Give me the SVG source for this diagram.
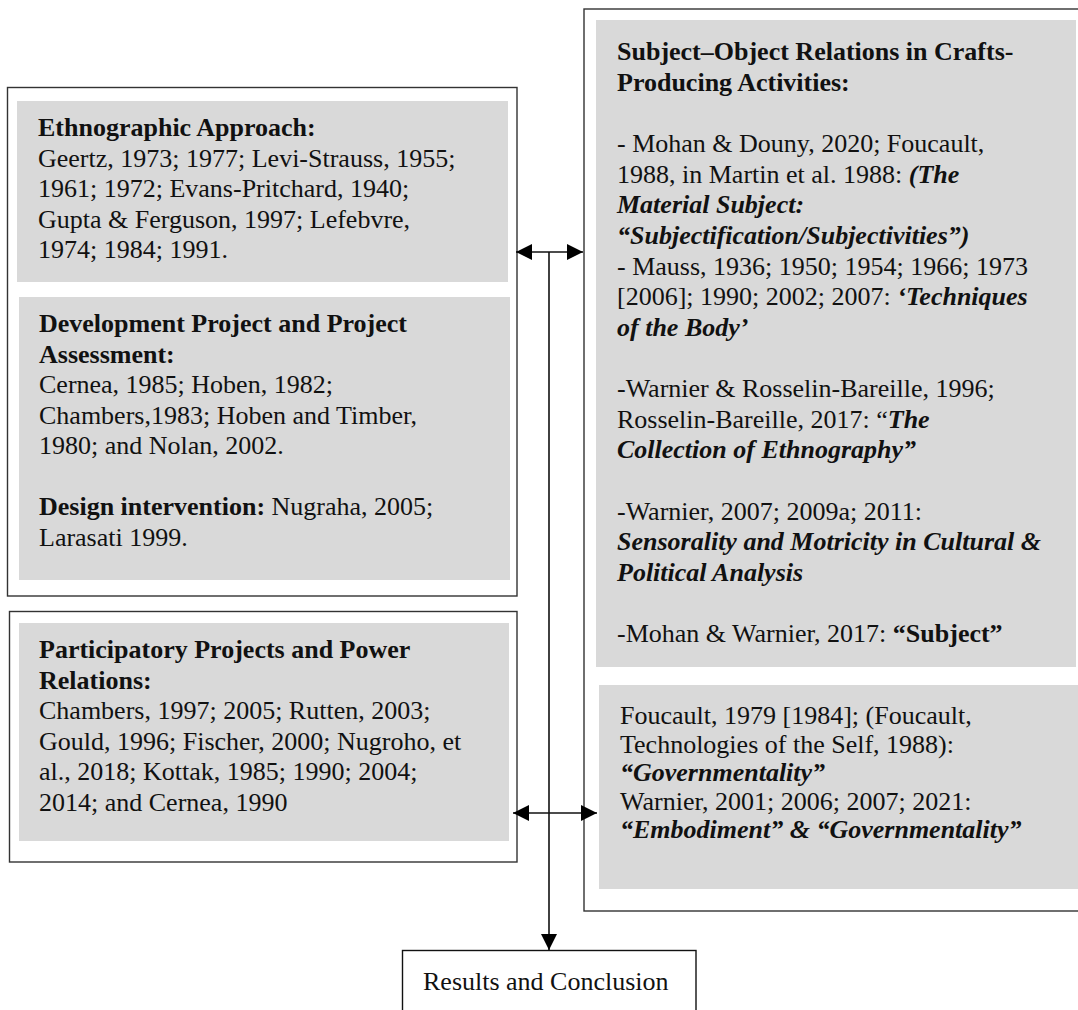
<svg xmlns="http://www.w3.org/2000/svg" width="1078" height="1010" viewBox="0 0 1078 1010">
  <style>
    .frame { fill: #ffffff; stroke: #333333; stroke-width: 1.4; }
    .panel { fill: #d9d9d9; stroke: none; }
    .t { font-family: "Liberation Serif", "Times New Roman", serif; font-size: 26px; fill: #111111; }
    .b { font-weight: bold; }
    .bi { font-weight: bold; font-style: italic; }
    .wire { stroke: #111111; stroke-width: 1.6; fill: none; }
  </style>
  <defs>
    <marker id="head" viewBox="0 0 16 16" refX="16" refY="8" markerWidth="16" markerHeight="16" markerUnits="userSpaceOnUse" orient="auto-start-reverse">
      <path d="M0,0 L16,8 L0,16 Z" fill="#000000"/>
    </marker>
  </defs>
  <rect width="1078" height="1010" fill="#ffffff"/>

  <!-- Left column: ethnography, development and design -->
  <g id="node-foundations">
    <rect class="frame" x="7.5" y="87.5" width="509.5" height="508.5"/>
    <rect class="panel" x="17" y="101" width="491" height="181"/>
    <text class="t" x="38" y="136">
      <tspan class="b" x="38">Ethnographic Approach:</tspan>
      <tspan x="38" dy="30.5">Geertz, 1973; 1977; Levi-Strauss, 1955;</tspan>
      <tspan x="38" dy="30.5">1961; 1972; Evans-Pritchard, 1940;</tspan>
      <tspan x="38" dy="30.5">Gupta &amp; Ferguson, 1997; Lefebvre,</tspan>
      <tspan x="38" dy="30.5">1974; 1984; 1991.</tspan>
    </text>
    <rect class="panel" x="19" y="297" width="491" height="283"/>
    <text class="t" x="39" y="332">
      <tspan class="b" x="39">Development Project and Project</tspan>
      <tspan class="b" x="39" dy="30.5">Assessment:</tspan>
      <tspan x="39" dy="30.5">Cernea, 1985; Hoben, 1982;</tspan>
      <tspan x="39" dy="30.5">Chambers,1983; Hoben and Timber,</tspan>
      <tspan x="39" dy="30.5">1980; and Nolan, 2002.</tspan>
      <tspan x="39" dy="61"><tspan class="b">Design intervention:</tspan> Nugraha, 2005;</tspan>
      <tspan x="39" dy="30.5">Larasati 1999.</tspan>
    </text>
  </g>

  <!-- Left column: participation and power -->
  <g id="node-participation">
    <rect class="frame" x="9.5" y="611.5" width="507.5" height="250.5"/>
    <rect class="panel" x="19" y="623" width="490" height="218"/>
    <text class="t" x="39" y="658">
      <tspan class="b" x="39">Participatory Projects and Power</tspan>
      <tspan class="b" x="39" dy="30.5">Relations:</tspan>
      <tspan x="39" dy="30.5">Chambers, 1997; 2005; Rutten, 2003;</tspan>
      <tspan x="39" dy="30.5">Gould, 1996; Fischer, 2000; Nugroho, et</tspan>
      <tspan x="39" dy="30.5">al., 2018; Kottak, 1985; 1990; 2004;</tspan>
      <tspan x="39" dy="30.5">2014; and Cernea, 1990</tspan>
    </text>
  </g>

  <!-- Right column: subject-object relations and governmentality -->
  <g id="node-subject-object">
    <rect class="frame" x="584" y="9" width="510" height="902"/>
    <rect class="panel" x="596" y="20" width="480" height="647"/>
    <text class="t" x="617" y="60">
      <tspan class="b" x="617">Subject–Object Relations in Crafts-</tspan>
      <tspan class="b" x="617" dy="30.65">Producing Activities:</tspan>
      <tspan x="617" dy="61.3">- Mohan &amp; Douny, 2020; Foucault,</tspan>
      <tspan x="617" dy="30.65">1988, in Martin et al. 1988: <tspan class="bi">(The</tspan></tspan>
      <tspan class="bi" x="617" dy="30.65">Material Subject:</tspan>
      <tspan class="bi" x="617" dy="30.65">“Subjectification/Subjectivities”)</tspan>
      <tspan x="617" dy="30.65">- Mauss, 1936; 1950; 1954; 1966; 1973</tspan>
      <tspan x="617" dy="30.65">[2006]; 1990; 2002; 2007: <tspan class="bi">‘Techniques</tspan></tspan>
      <tspan class="bi" x="617" dy="30.65">of the Body’</tspan>
      <tspan x="617" dy="61.3">-Warnier &amp; Rosselin-Bareille, 1996;</tspan>
      <tspan x="617" dy="30.65">Rosselin-Bareille, 2017: “<tspan class="bi">The</tspan></tspan>
      <tspan class="bi" x="617" dy="30.65">Collection of Ethnography”</tspan>
      <tspan x="617" dy="61.3">-Warnier, 2007; 2009a; 2011:</tspan>
      <tspan class="bi" x="617" dy="30.65">Sensorality and Motricity in Cultural &amp;</tspan>
      <tspan class="bi" x="617" dy="30.65">Political Analysis</tspan>
      <tspan x="617" dy="61.3">-Mohan &amp; Warnier, 2017: <tspan class="b">“Subject”</tspan></tspan>
    </text>
    <rect class="panel" x="599" y="685" width="480" height="204"/>
    <text class="t" x="620" y="724">
      <tspan x="620">Foucault, 1979 [1984]; (Foucault,</tspan>
      <tspan x="620" dy="28.6">Technologies of the Self, 1988):</tspan>
      <tspan class="bi" x="620" dy="28.6">“Governmentality”</tspan>
      <tspan x="620" dy="28.6">Warnier, 2001; 2006; 2007; 2021:</tspan>
      <tspan class="bi" x="620" dy="28.6">“Embodiment” &amp; “Governmentality”</tspan>
    </text>
  </g>

  <!-- Outcome -->
  <g id="node-results">
    <rect x="402.5" y="950.5" width="293.5" height="70" fill="#ffffff" stroke="#111111" stroke-width="1.4"/>
    <text class="t" x="423" y="990">Results and Conclusion</text>
  </g>

  <!-- Connectors -->
  <g id="connectors">
    <line class="wire" x1="516" y1="252" x2="583" y2="252" marker-start="url(#head)" marker-end="url(#head)"/>
    <line class="wire" x1="513" y1="813" x2="597" y2="813" marker-start="url(#head)" marker-end="url(#head)"/>
    <line class="wire" x1="549" y1="252" x2="549" y2="950" marker-end="url(#head)"/>
  </g>
</svg>
